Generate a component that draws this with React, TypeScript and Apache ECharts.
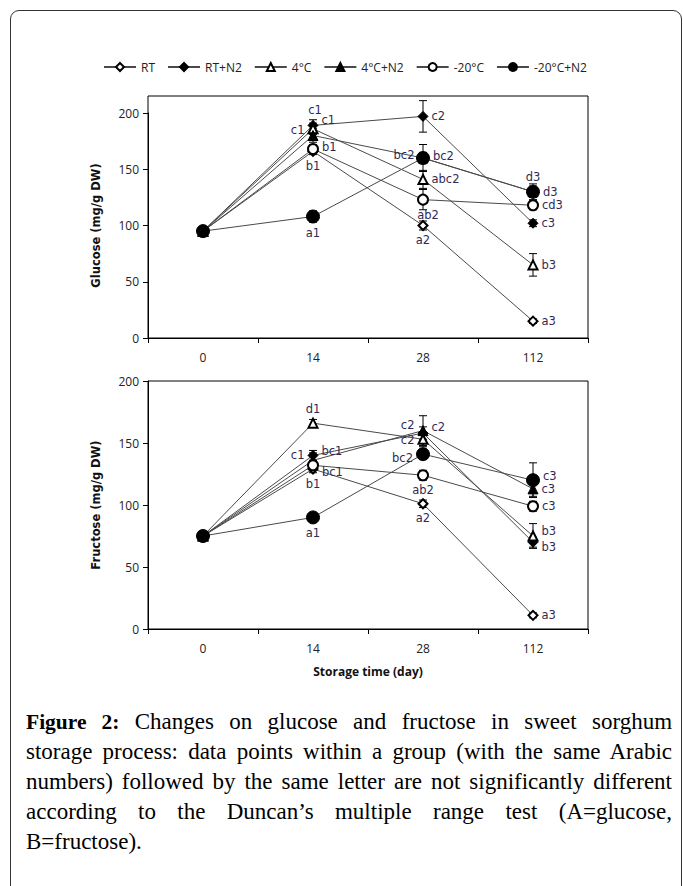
import React, { useEffect, useRef } from 'react';
import * as echarts from 'echarts';

// ---------- data ----------
const days = ['0', '14', '28', '112'];
const seriesNames = ['RT', 'RT+N2', '4°C', '4°C+N2', '-20°C', '-20°C+N2'];

// Glucose (mg/g DW)
const glucoseRT = [95, 166, 100, 15];
const glucoseRTN2 = [95, 189, 197, 102];
const glucose4C = [95, 186, 141, 65];
const glucose4CN2 = [95, 180, 160, 130];
const glucoseM20 = [95, 168, 123, 118];
const glucoseM20N2 = [95, 108, 160, 130];

const glucoseErrRT = [2, 3, 4, 2];
const glucoseErrRTN2 = [2, 5, 14, 3];
const glucoseErr4C = [2, 5, 8, 10];
const glucoseErr4CN2 = [2, 6, 12, 5];
const glucoseErrM20 = [2, 4, 9, 4];
const glucoseErrM20N2 = [2, 5, 5, 7];

const glucoseLetRT = ['', 'b1', 'a2', 'a3'];
const glucoseLetRTN2 = ['', 'c1', 'c2', 'c3'];
const glucoseLet4C = ['', 'c1', 'abc2', 'b3'];
const glucoseLet4CN2 = ['', 'c1', 'bc2', 'd3'];
const glucoseLetM20 = ['', 'b1', 'ab2', 'cd3'];
const glucoseLetM20N2 = ['', 'a1', 'bc2', 'd3'];

// Fructose (mg/g DW)
const fructoseRT = [75, 129, 101, 11];
const fructoseRTN2 = [75, 140, 158, 70];
const fructose4C = [75, 166, 153, 75];
const fructose4CN2 = [75, 136, 160, 113];
const fructoseM20 = [75, 132, 124, 99];
const fructoseM20N2 = [75, 90, 141, 120];

const fructoseErrRT = [2, 3, 3, 2];
const fructoseErrRTN2 = [2, 4, 5, 4];
const fructoseErr4C = [2, 3, 6, 10];
const fructoseErr4CN2 = [2, 6, 12, 6];
const fructoseErrM20 = [2, 4, 4, 4];
const fructoseErrM20N2 = [2, 3, 4, 14];

const fructoseLetRT = ['', 'b1', 'a2', 'a3'];
const fructoseLetRTN2 = ['', 'c1', 'c2', 'b3'];
const fructoseLet4C = ['', 'd1', 'c2', 'b3'];
const fructoseLet4CN2 = ['', 'bc1', 'c2', 'c3'];
const fructoseLetM20 = ['', 'bc1', 'ab2', 'c3'];
const fructoseLetM20N2 = ['', 'a1', 'bc2', 'c3'];

const captionLines = [
  'Changes on glucose and fructose in sweet sorghum',
  'storage process: data points within a group (with the same Arabic',
  'numbers) followed by the same letter are not significantly different',
  'according to the Duncan’s multiple range test (A=glucose,',
  'B=fructose).',
];

// ---------- styles / layout (not data) ----------
const symbolStyles = [
  { symbol: 'emptyDiamond', size: 9 },
  { symbol: 'diamond', size: 10 },
  { symbol: 'emptyTriangle', size: 9 },
  { symbol: 'triangle', size: 10 },
  { symbol: 'emptyCircle', size: 10 },
  { symbol: 'circle', size: 13 },
];

type LP = [string, number, number];
const glucosePos: LP[][] = [
  [['right', 0, 0], ['bottom', 0, 0], ['bottom', 0, 0], ['right', 0, 0]],
  [['right', 0, 0], ['right', 0, -5], ['right', 0, 0], ['right', 0, 0]],
  [['top', 0, 0], ['top', 2, -4], ['right', 0, 0], ['right', 0, 0]],
  [['left', 0, 0], ['left', 0, -6], ['left', 0, -3], ['top', 0, 0]],
  [['right', 0, 0], ['right', 0, -2], ['bottom', 5, 0], ['right', 0, 0]],
  [['right', 0, 0], ['bottom', 0, 0], ['right', 0, -2], ['right', 0, 0]],
];
const fructosePos: LP[][] = [
  [['right', 0, 0], ['bottom', 0, 0], ['bottom', 0, 0], ['right', 0, 0]],
  [['left', 0, 0], ['left', 0, 0], ['left', 0, -8], ['right', 0, 5]],
  [['top', 0, 0], ['top', 0, 0], ['left', 0, 1], ['right', 0, -5]],
  [['right', 0, 0], ['right', 0, -9], ['right', 0, -4], ['right', 0, 0]],
  [['right', 0, 0], ['right', 0, 7], ['bottom', 0, 0], ['right', 0, 0]],
  [['right', 0, 0], ['bottom', 0, 0], ['left', 0, 4], ['right', 0, -4]],
];

const glucoseVals = [glucoseRT, glucoseRTN2, glucose4C, glucose4CN2, glucoseM20, glucoseM20N2];
const glucoseErrs = [glucoseErrRT, glucoseErrRTN2, glucoseErr4C, glucoseErr4CN2, glucoseErrM20, glucoseErrM20N2];
const glucoseLets = [glucoseLetRT, glucoseLetRTN2, glucoseLet4C, glucoseLet4CN2, glucoseLetM20, glucoseLetM20N2];
const fructoseVals = [fructoseRT, fructoseRTN2, fructose4C, fructose4CN2, fructoseM20, fructoseM20N2];
const fructoseErrs = [fructoseErrRT, fructoseErrRTN2, fructoseErr4C, fructoseErr4CN2, fructoseErrM20, fructoseErrM20N2];
const fructoseLets = [fructoseLetRT, fructoseLetRTN2, fructoseLet4C, fructoseLet4CN2, fructoseLetM20, fructoseLetM20N2];

const LABEL_COLOR = '#2f2a55';
const LABEL_FONT = 'DejaVu Sans';
const AXIS_FONT = 'Open Sans';

function buildLineSeries(vals: number[][], lets: string[][], pos: LP[][], axisIndex: number) {
  return vals.map((arr, si) => ({
    name: seriesNames[si],
    type: 'line',
    xAxisIndex: axisIndex,
    yAxisIndex: axisIndex,
    symbol: symbolStyles[si].symbol,
    symbolSize: symbolStyles[si].size,
    z: 3,
    itemStyle: { color: '#000', borderColor: '#000', borderWidth: 1 },
    lineStyle: { color: '#4a4a4a', width: 1 },
    emphasis: { disabled: true },
    labelLayout: (params: any) => {
      const p = pos[si][params.dataIndex];
      return { dx: p[1], dy: p[2], hideOverlap: false };
    },
    data: arr.map((v, di) => ({
      value: v,
      label: {
        show: lets[si][di] !== '',
        formatter: lets[si][di],
        position: pos[si][di][0],
        distance: 3,
        color: LABEL_COLOR,
        fontFamily: LABEL_FONT,
        fontSize: 11.5,
      },
    })),
  }));
}

function buildErrorSeries(vals: number[][], errs: number[][], axisIndex: number) {
  const data: number[][] = [];
  vals.forEach((arr, si) => arr.forEach((v, di) => data.push([di, v, errs[si][di]])));
  return {
    type: 'custom',
    xAxisIndex: axisIndex,
    yAxisIndex: axisIndex,
    z: 2,
    silent: true,
    data,
    renderItem: (params: any, api: any) => {
      const x = api.value(0);
      const v = api.value(1);
      const e = api.value(2);
      const top = api.coord([x, v + e]);
      const bot = api.coord([x, v - e]);
      const hw = 4;
      const st = { stroke: '#000', lineWidth: 1 };
      return {
        type: 'group',
        children: [
          { type: 'line', shape: { x1: top[0], y1: top[1], x2: bot[0], y2: bot[1] }, style: st },
          { type: 'line', shape: { x1: top[0] - hw, y1: top[1], x2: top[0] + hw, y2: top[1] }, style: st },
          { type: 'line', shape: { x1: bot[0] - hw, y1: bot[1], x2: bot[0] + hw, y2: bot[1] }, style: st },
        ],
      };
    },
  };
}

function yAxisCfg(gridIndex: number, name: string) {
  return {
    type: 'value',
    gridIndex,
    min: 0,
    max: 200,
    interval: 50,
    name,
    nameLocation: 'middle',
    nameGap: 46,
    nameTextStyle: { fontFamily: 'DejaVu Sans', fontWeight: 'bold', fontSize: 11.5, color: '#111' },
    axisLine: { show: true, lineStyle: { color: '#000', width: 1 } },
    axisTick: { show: true, inside: false, length: 5, lineStyle: { color: '#000' } },
    axisLabel: { fontFamily: AXIS_FONT, fontSize: 12, color: '#222', margin: 9 },
    splitLine: { show: false },
  };
}

function xAxisCfg(gridIndex: number, name: string) {
  return {
    type: 'category',
    gridIndex,
    data: days,
    boundaryGap: true,
    name,
    nameLocation: 'middle',
    nameGap: 36,
    nameTextStyle: { fontFamily: AXIS_FONT, fontWeight: 'bold', fontSize: 12, color: '#111' },
    axisLine: { show: true, lineStyle: { color: '#000', width: 1 } },
    axisTick: { show: true, inside: false, length: 5, alignWithLabel: false, lineStyle: { color: '#000' } },
    axisLabel: { fontFamily: AXIS_FONT, fontSize: 12, color: '#222', margin: 13 },
    splitLine: { show: false },
  };
}

export default function App() {
  const ref = useRef<HTMLDivElement>(null);

  useEffect(() => {
    if (!ref.current) return;
    const chart = echarts.init(ref.current, undefined, { renderer: 'svg' });
    const option: any = {
      animation: false,
      backgroundColor: 'transparent',
      legend: {
        data: seriesNames,
        left: 98,
        top: 56,
        itemWidth: 32,
        itemHeight: 10,
        itemGap: 12,
        textStyle: { fontFamily: AXIS_FONT, fontSize: 12, color: '#222' },
        selectedMode: false,
      },
      grid: [
        { left: 148, top: 113, width: 440, height: 225 },
        { left: 148, top: 381, width: 440, height: 248 },
      ],
      xAxis: [xAxisCfg(0, ''), xAxisCfg(1, 'Storage time (day)')],
      yAxis: [yAxisCfg(0, 'Glucose (mg/g DW)'), yAxisCfg(1, 'Fructose (mg/g DW)')],
      graphic: [
        {
          type: 'rect',
          shape: { x: 148, y: 96, width: 440, height: 242 },
          style: { fill: 'none', stroke: '#000', lineWidth: 1 },
          silent: true,
        },
        {
          type: 'rect',
          shape: { x: 148, y: 381, width: 440, height: 248 },
          style: { fill: 'none', stroke: '#000', lineWidth: 1 },
          silent: true,
        },
      ],
      series: [
        buildErrorSeries(glucoseVals, glucoseErrs, 0),
        buildErrorSeries(fructoseVals, fructoseErrs, 1),
        ...buildLineSeries(glucoseVals, glucoseLets, glucosePos, 0),
        ...buildLineSeries(fructoseVals, fructoseLets, fructosePos, 1),
      ],
    };
    chart.setOption(option);
    return () => chart.dispose();
  }, []);

  const lineStyle = (last: boolean): React.CSSProperties => ({
    height: 30,
    lineHeight: '30px',
    textAlign: 'justify',
    textAlignLast: last ? 'left' : 'justify',
    whiteSpace: 'nowrap',
  });

  return (
    <div
      style={{
        position: 'fixed',
        left: 0,
        top: 0,
        width: 683,
        height: 886,
        overflow: 'hidden',
        background: '#fff',
      }}
    >
      <div
        style={{
          position: 'absolute',
          left: 10,
          top: 10,
          width: 670,
          height: 1000,
          border: '1.5px solid #333',
          borderRadius: 9,
        }}
      />
      <div ref={ref} style={{ position: 'absolute', left: 0, top: 0, width: 683, height: 700 }} />
      <div
        style={{
          position: 'absolute',
          left: 26,
          top: 707,
          width: 646,
          fontFamily: '"Liberation Serif", "DejaVu Serif", serif',
          fontSize: 23,
          color: '#000',
        }}
      >
        {captionLines.map((t, i) => (
          <div key={i} style={lineStyle(i === captionLines.length - 1)}>
            {i === 0 ? (
              <>
                <b style={{ fontSize: 21.5 }}>Figure 2:</b> {t}
              </>
            ) : (
              t
            )}
          </div>
        ))}
      </div>
    </div>
  );
}
